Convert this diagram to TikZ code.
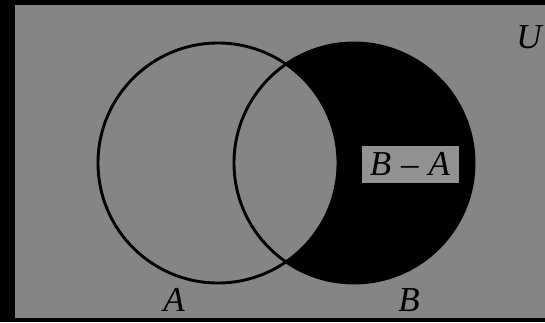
\documentclass[tikz,border=0pt]{standalone}
\usepackage{fontspec}
\setmainfont{Liberation Serif}
\definecolor{bggray}{RGB}{133,133,133}
\definecolor{boxgray}{RGB}{146,146,146}
\begin{document}
\begin{tikzpicture}[x=1pt,y=-1pt,
  setline/.style={line width=2.9pt},
  lbl/.style={font=\fontsize{35}{38}\selectfont\itshape, inner sep=0pt}]
\useasboundingbox (0,0) rectangle (545,322);
\fill[black] (0,0) rectangle (545,322);
\fill[bggray] (15,5) rectangle (545,318);
% B - A region
\fill[black] (354,163) circle (120);
\begin{scope}
  \clip (218,163) circle (120);
  \fill[bggray] (354,163) circle (120);
\end{scope}
\draw[setline] (218,163) circle (120);
\draw[setline] (354,163) circle (120);
\node[lbl, fill=boxgray, minimum width=97pt, minimum height=37pt] (BA) at (410,164) {B\hspace{10pt}–\hspace{10pt}A};
\node[lbl] (U) at (529,37) {U};
\node[lbl] (A) at (174,300) {A};
\node[lbl] (B) at (409,300) {B};
\end{tikzpicture}
\end{document}
